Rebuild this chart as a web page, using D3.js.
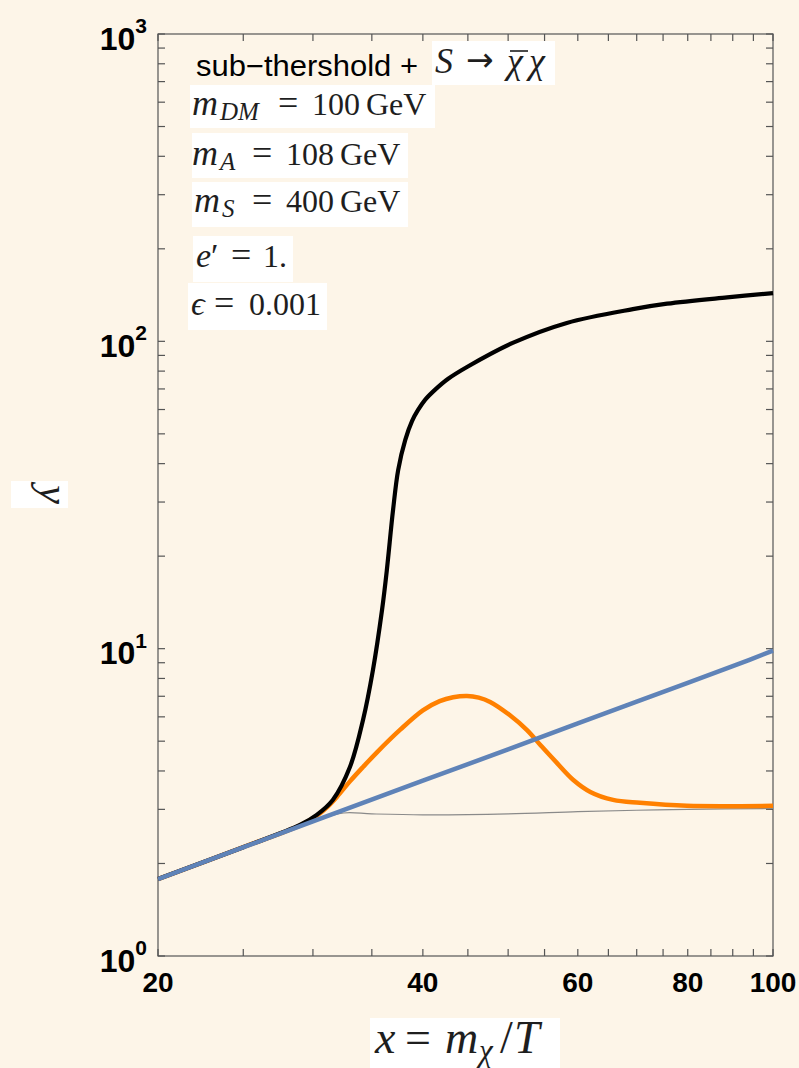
<!DOCTYPE html>
<html><head><meta charset="utf-8">
<script src="https://cdn.jsdelivr.net/npm/d3@7"></script>
<style>html,body{margin:0;padding:0;background:#fdf5e8;} svg{display:block}</style>
</head><body><svg id="c" width="799" height="1068"></svg>
<script>
// ---- data ----
const blueX  = [20, 30, 40, 50, 60, 70, 80, 90, 100];
const blueY  = [1.78, 2.74, 3.72, 4.70, 5.71, 6.72, 7.74, 8.77, 9.85];
const grayX  = [20, 30, 32.5, 35, 40, 50, 60, 70, 80, 100];
const grayY  = [1.78, 2.74, 2.92, 2.90, 2.88, 2.90, 2.95, 2.98, 3.0, 3.02];
const orangeX = [20, 25, 29, 30.3, 31.1, 31.96, 33.05, 34.2, 35.47, 37.7, 40, 41.8, 43.3, 44.9, 46.3, 47.7, 50.2, 52.5, 54.4, 56.8, 59.3, 62, 65.8, 70.6, 79.8, 100];
const orangeY = [1.78, 2.26, 2.66, 2.86, 3.04, 3.30, 3.70, 4.12, 4.60, 5.45, 6.30, 6.75, 6.95, 7.02, 6.93, 6.71, 6.08, 5.44, 4.86, 4.25, 3.74, 3.42, 3.22, 3.15, 3.08, 3.08];
const blackX = [20, 25, 29, 30.3, 31.6, 33.05, 34.2, 35.1, 35.95, 36.4, 37.0, 37.5, 38.2, 38.89, 39.5, 40.23, 41.28, 42.7, 44.9, 50.6, 58.3, 69.3, 75.8, 88.7, 100];
const blackY = [1.78, 2.26, 2.67, 2.88, 3.22, 4.12, 5.86, 8.52, 13.4, 18.0, 28.3, 38.2, 47.8, 55.1, 59.8, 64.5, 69.5, 75.4, 82.5, 98.8, 114.8, 127.3, 132.6, 139.0, 143.5];
const xTicks = [20,25,30,35,40,45,50,55,60,65,70,75,80,85,90,95,100];
const xTickLabels = [20, 40, 60, 80, 100];
const yDecades = [0, 1, 2, 3];

// ---- layout ----
const L = 158, R = 773, T = 34, B = 956;
const svg = d3.select("#c");
const x = d3.scaleLog().domain([20, 100]).range([L, R]);
const y = d3.scaleLog().domain([1, 1000]).range([B, T]);
const bg = "#fdf5e8";
svg.append("rect").attr("width", 799).attr("height", 1068).attr("fill", bg);

// frame
const axisCol = "#555";
svg.append("rect").attr("x", L).attr("y", T).attr("width", R - L).attr("height", B - T)
  .attr("fill", "none").attr("stroke", axisCol).attr("stroke-width", 1.2);

// ticks (inward on all four sides)
const tl = 7;
const gx = svg.append("g").attr("stroke", axisCol).attr("stroke-width", 1.2);
xTicks.forEach(v => {
  gx.append("line").attr("x1", x(v)).attr("x2", x(v)).attr("y1", B).attr("y2", B - tl);
  gx.append("line").attr("x1", x(v)).attr("x2", x(v)).attr("y1", T).attr("y2", T + tl);
});
const yTickVals = [];
yDecades.forEach(d => {
  const base = Math.pow(10, d);
  if (d < 3) { for (let k = 1; k <= 9; k++) yTickVals.push(k * base); } else yTickVals.push(base);
});
yTickVals.forEach(v => {
  gx.append("line").attr("x1", L).attr("x2", L + tl).attr("y1", y(v)).attr("y2", y(v));
  gx.append("line").attr("x1", R).attr("x2", R - tl).attr("y1", y(v)).attr("y2", y(v));
});

// tick labels
const lblFont = "'Liberation Sans', Arial, sans-serif";
xTickLabels.forEach(v => {
  svg.append("text").attr("x", x(v)).attr("y", B + 36).attr("text-anchor", "middle")
    .attr("font-family", lblFont).attr("font-weight", "bold").attr("font-size", 28).text(v);
});
yDecades.forEach(d => {
  const t = svg.append("text").attr("x", 147).attr("y", y(Math.pow(10, d)) + 15.5).attr("text-anchor", "end")
    .attr("font-family", lblFont).attr("font-weight", "bold").attr("font-size", 32);
  t.append("tspan").text("10");
  t.append("tspan").attr("font-size", 21).attr("dy", -16.5).text(d);
});

// curves
const line = d3.line().x(d => x(d[0])).y(d => y(d[1])).curve(d3.curveCatmullRom.alpha(0.5));
const zip = (a, b) => a.map((v, i) => [v, b[i]]);
svg.append("path").attr("d", line(zip(grayX, grayY))).attr("fill", "none").attr("stroke", "#8a8a8a").attr("stroke-width", 1.2);
svg.append("path").attr("d", line(zip(orangeX, orangeY))).attr("fill", "none").attr("stroke", "#ff8000").attr("stroke-width", 4.5);
svg.append("path").attr("d", line(zip(blackX, blackY))).attr("fill", "none").attr("stroke", "#000").attr("stroke-width", 4.2);
svg.append("path").attr("d", line(zip(blueX, blueY))).attr("fill", "none").attr("stroke", "#5f83b8").attr("stroke-width", 4.5);

// ---- math text: segments placed at given x ----
const serif = "'Liberation Serif', 'Times New Roman', serif";
const ink = "#1e1e1e";
function mathLine(box, baseY, size, segs) {
  const g = svg.append("g");
  if (box) g.append("rect").attr("x", box[0]).attr("y", box[1]).attr("width", box[2]).attr("height", box[3]).attr("fill", "#fff");
  segs.forEach(([txt, style, sx, fs]) => {
    const sub = style.includes("s");
    g.append("text").attr("x", sx).attr("y", baseY + (sub ? size * 0.17 : 0))
      .attr("font-family", serif).attr("font-size", fs || (sub ? size * 0.75 : size))
      .attr("font-style", style.includes("i") ? "italic" : "normal").attr("fill", ink).text(txt);
  });
  return g;
}

// annotations
svg.append("text").attr("x", 196).attr("y", 76).attr("font-family", lblFont).attr("font-size", 29)
  .attr("textLength", 222).attr("lengthAdjust", "spacingAndGlyphs")
  .attr("fill", "#000").text("sub\u2212thershold +");
{
  const g = mathLine([432, 41, 123, 44], 73, 36, [["S", "i", 435], ["\u03C7", "i", 507], ["\u03C7", "i", 529]]);
  g.append("text").attr("x", 466).attr("y", 71).attr("font-family", "'DejaVu Sans', sans-serif")
    .attr("font-size", 33).attr("fill", ink).text("\u2192");
  g.append("line").attr("x1", 510).attr("x2", 528).attr("y1", 51).attr("y2", 51).attr("stroke", ink).attr("stroke-width", 1.6);
}
const eq = 36, ms = 36;
mathLine([190, 85, 245, 43], 115, 32, [["m", "i", 192, ms], ["DM", "is", 220, 25], ["=", "", 278, eq], ["100", "", 312], ["GeV", "", 366]]);
mathLine([192, 133, 216, 45], 165, 32, [["m", "i", 192, ms], ["A", "is", 220, 25], ["=", "", 252, eq], ["108", "", 286], ["GeV", "", 340]]);
mathLine([192, 182, 216, 45], 212, 32, [["m", "i", 194, ms], ["S", "is", 222, 25], ["=", "", 252, eq], ["400", "", 286], ["GeV", "", 340]]);
mathLine([193, 236, 100, 46], 267, 32, [["e", "i", 196, 34], ["\u2032", "", 211, 34], ["=", "", 231, eq], ["1.", "", 263]]);
mathLine([188, 283, 139, 47], 315, 32, [["\u03F5", "i", 191, 34], ["=", "", 214, eq], ["0.001", "", 249]]);

// axis labels
{
  const g = svg.append("g");
  g.append("rect").attr("x", 11).attr("y", 481).attr("width", 57).attr("height", 27).attr("fill", "#fff");
  g.append("text").attr("transform", "translate(40,494.5) rotate(90)").attr("text-anchor", "middle")
    .attr("font-family", serif).attr("font-style", "italic").attr("font-size", 42).attr("fill", ink).text("y");
}
mathLine([370, 1018, 190, 50], 1053, 46,
  [["x", "i", 375], ["=", "", 405], ["m", "i", 445], ["\u03C7", "is", 479, 31], ["/", "", 500], ["T", "i", 514]]);
</script></body></html>
